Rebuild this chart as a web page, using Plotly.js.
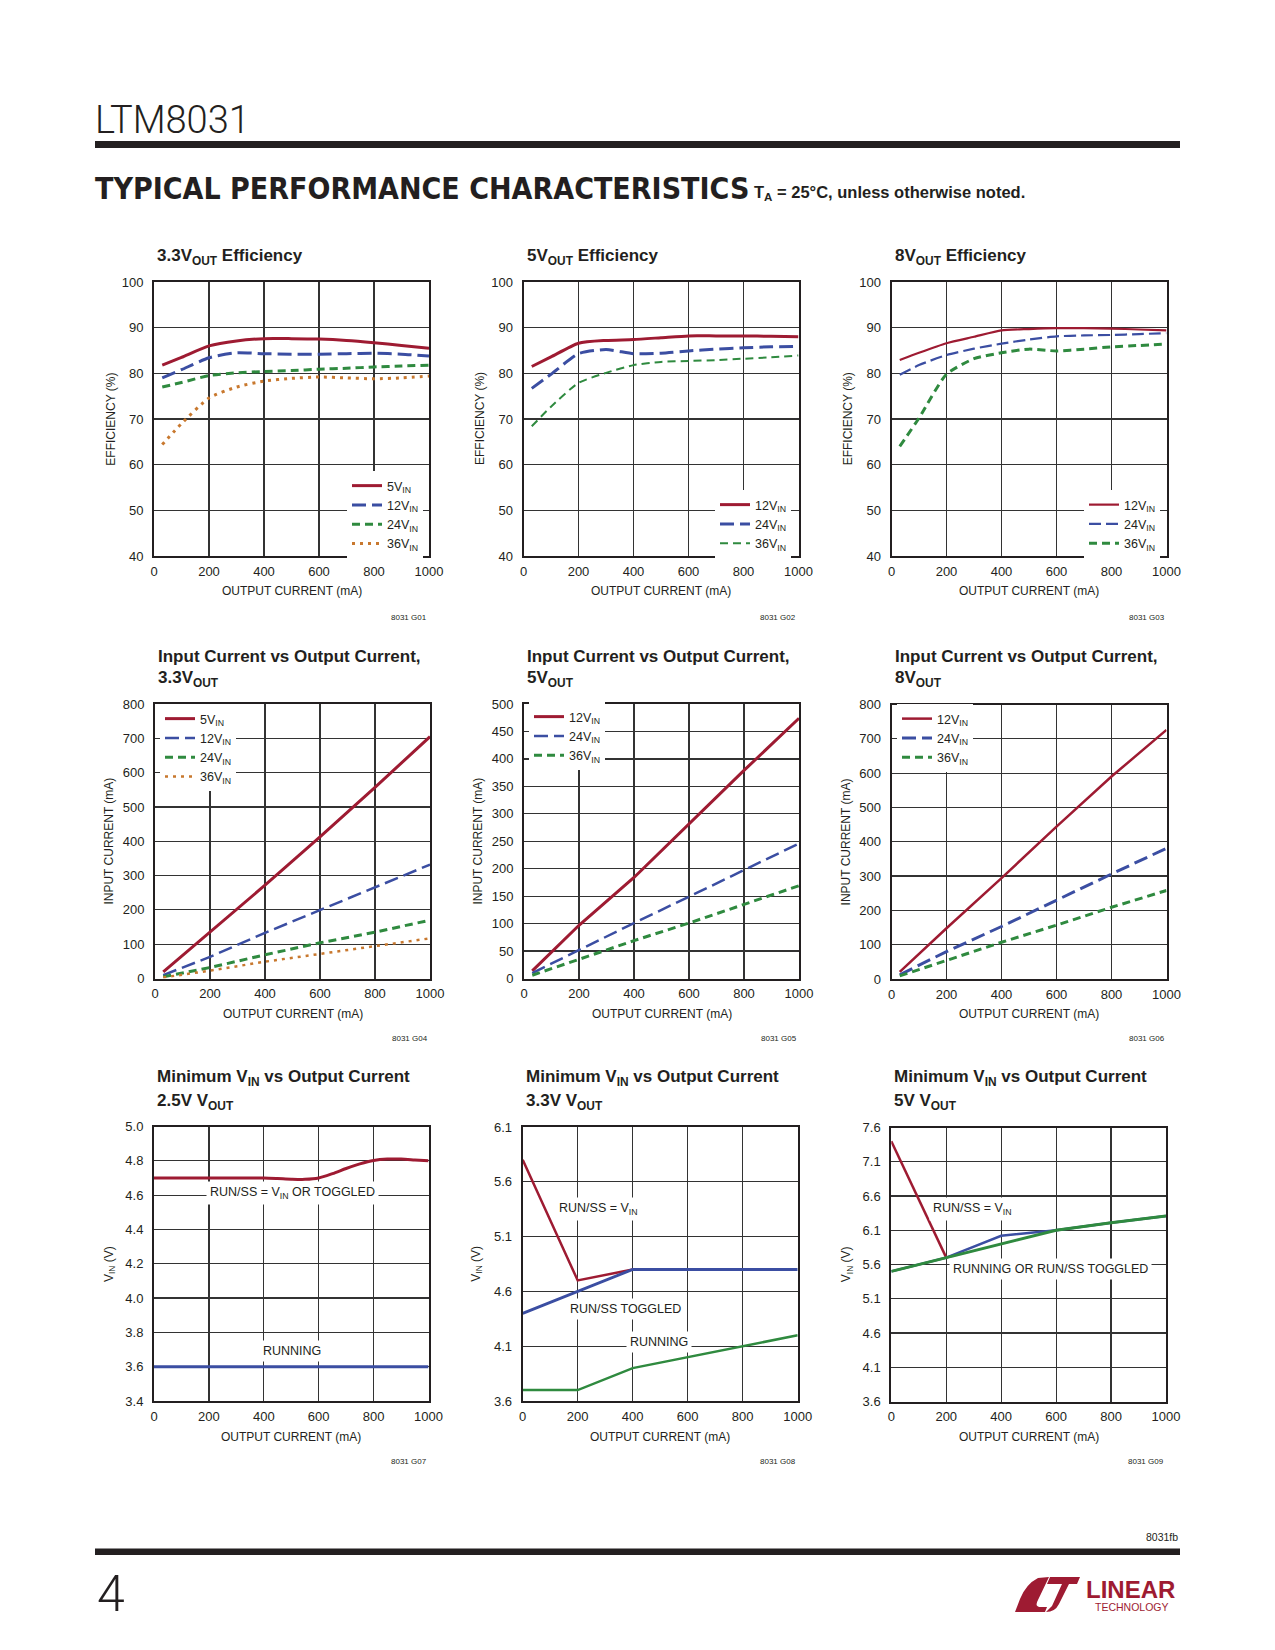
<!DOCTYPE html>
<html>
<head>
<meta charset="utf-8">
<script src="https://cdn.plot.ly/plotly-3.0.1.min.js"></script>
<style>
html,body{margin:0;padding:0;background:#fff;}
#page{width:1275px;height:1650px;}
</style>
</head>
<body>
<div id="page"></div>
<script>
// ---------------- DATA ----------------
// Efficiency charts: output current (mA)
const effCurrent = [30, 100, 200, 300, 400, 500, 600, 700, 800, 900, 1000];
// 3.3V OUT efficiency (%)
const eff33_5Vin  = [81.8, 83.5, 86.0, 87.1, 87.6, 87.6, 87.5, 87.2, 86.7, 86.1, 85.5];
const eff33_12Vin = [79.0, 80.8, 83.4, 84.5, 84.3, 84.2, 84.2, 84.3, 84.4, 84.2, 83.8];
const eff33_24Vin = [77.0, 78.0, 79.5, 80.1, 80.4, 80.6, 80.9, 81.1, 81.4, 81.6, 81.8];
const eff33_36Vin = [64.4, 69.0, 74.6, 77.0, 78.3, 78.9, 79.2, 79.0, 78.8, 79.0, 79.4];
// 5V OUT efficiency (%)
const eff5_12Vin = [81.5, 83.6, 86.6, 87.2, 87.4, 87.8, 88.2, 88.2, 88.2, 88.1, 88.0];
const eff5_24Vin = [76.7, 79.8, 84.3, 85.2, 84.3, 84.4, 84.9, 85.3, 85.6, 85.8, 85.9];
const eff5_36Vin = [68.4, 72.7, 77.9, 80.1, 81.8, 82.5, 82.7, 82.9, 83.2, 83.5, 83.9];
// 8V OUT efficiency (%)
const eff8_12Vin = [82.9, 84.5, 86.6, 88.0, 89.4, 89.7, 89.9, 89.9, 89.8, 89.6, 89.4];
const eff8_24Vin = [79.7, 81.8, 84.0, 85.4, 86.5, 87.4, 88.1, 88.3, 88.4, 88.6, 88.8];
const eff8_36Vin = [64.0, 70.2, 79.8, 83.2, 84.5, 85.3, 84.9, 85.3, 85.8, 86.1, 86.4];

// Input current charts: output current (mA) -> input current (mA)
const inCurrentX = [30, 200, 400, 600, 800, 1000];
const iin33_5Vin  = [19, 136, 272, 413, 557, 705];
const iin33_12Vin = [10, 63, 133, 199, 267, 332];
const iin33_24Vin = [5, 32, 69, 104, 135, 170];
const iin33_36Vin = [3, 23, 49, 72, 94, 117];
const iin5_12Vin = [14, 97, 184, 282, 379, 474];
const iin5_24Vin = [10, 52, 101, 149, 198, 246];
const iin5_36Vin = [6, 35, 69, 101, 135, 169];
const iin8_12Vin = [21, 148, 294, 444, 590, 726];
const iin8_24Vin = [12, 80, 153, 230, 306, 381];
const iin8_36Vin = [9, 55, 107, 157, 209, 258];

// Minimum VIN charts
const vmin25_runssX = [0, 100, 200, 300, 400, 450, 500, 550, 600, 650, 700, 750, 800, 850, 900, 950, 1000];
const vmin25_runss  = [4.70, 4.70, 4.70, 4.70, 4.70, 4.697, 4.693, 4.692, 4.70, 4.725, 4.755, 4.782, 4.802, 4.81, 4.81, 4.805, 4.80];
const vmin25_runX = [0, 1000];
const vmin25_run  = [3.6, 3.6];

const vmin33_vinX = [0, 200, 400];
const vmin33_vin  = [5.8, 4.7, 4.8];
const vmin33_togX = [0, 200, 400, 1000];
const vmin33_tog  = [4.4, 4.6, 4.8, 4.8];
const vmin33_runX = [0, 200, 400, 600, 800, 1000];
const vmin33_run  = [3.7, 3.7, 3.9, 4.0, 4.1, 4.2];

const vmin5_vinX = [0, 200];
const vmin5_vin  = [7.4, 5.7];
const vmin5_togX = [0, 200, 400, 600, 800, 1000];
const vmin5_tog  = [5.5, 5.7, 6.02, 6.1, 6.21, 6.31];
const vmin5_runX = [0, 200, 400, 600, 800, 1000];
const vmin5_run  = [5.5, 5.7, 5.9, 6.1, 6.21, 6.31];

// Tick / label texts
const xTitle = 'OUTPUT CURRENT (mA)';
const chartTitles = [
  ['3.3V<sub>OUT</sub> Efficiency'],
  ['5V<sub>OUT</sub> Efficiency'],
  ['8V<sub>OUT</sub> Efficiency'],
  ['Input Current vs Output Current,', '3.3V<sub>OUT</sub>'],
  ['Input Current vs Output Current,', '5V<sub>OUT</sub>'],
  ['Input Current vs Output Current,', '8V<sub>OUT</sub>'],
  ['Minimum V<sub>IN</sub> vs Output Current', '2.5V V<sub>OUT</sub>'],
  ['Minimum V<sub>IN</sub> vs Output Current', '3.3V V<sub>OUT</sub>'],
  ['Minimum V<sub>IN</sub> vs Output Current', '5V V<sub>OUT</sub>']
];
const yTitles = ['EFFICIENCY (%)','EFFICIENCY (%)','EFFICIENCY (%)',
  'INPUT CURRENT (mA)','INPUT CURRENT (mA)','INPUT CURRENT (mA)',
  'V<sub>IN</sub> (V)','V<sub>IN</sub> (V)','V<sub>IN</sub> (V)'];
const figIds = ['8031 G01','8031 G02','8031 G03','8031 G04','8031 G05','8031 G06','8031 G07','8031 G08','8031 G09'];

// ---------------- LAYOUT / STYLE ----------------
const W = 1275, H = 1650;
const PX = v => v / W;
const PY = v => 1 - v / H;
const INK = '#231f20';
const RED = '#9e1b32', BLUE = '#3b4ea2', GREEN = '#2f8a3f', ORANGE = '#c8782e';
const SANS = "'Liberation Sans', Arial, Helvetica, sans-serif";
const DISPLAY = "'DejaVu Sans Condensed', 'DejaVu Sans', sans-serif";
const LIGHT = "Roboto, 'Liberation Sans', sans-serif";

const panels = [
  {bx:[154,429],   by:[282,556],    yr:[40,100], dy:10,  fmt:''},
  {bx:[523.5,798.5], by:[282,556],  yr:[40,100], dy:10,  fmt:''},
  {bx:[891.5,1166.5], by:[282,556], yr:[40,100], dy:10,  fmt:''},
  {bx:[155,430],   by:[704,978.5],  yr:[0,800],  dy:100, fmt:''},
  {bx:[524,799],   by:[704,978.5],  yr:[0,500],  dy:50,  fmt:''},
  {bx:[891.5,1166.5], by:[704.5,979], yr:[0,800], dy:100, fmt:''},
  {bx:[154,428.5], by:[1126.5,1401], yr:[3.4,5.0], dy:0.2, fmt:'.1f'},
  {bx:[522.7,797.7], by:[1127,1401], yr:[3.6,6.1], dy:0.5, fmt:'.1f'},
  {bx:[891.3,1166], by:[1127.5,1401.5], yr:[3.6,7.6], dy:0.5, fmt:'.1f'}
];
const yTitleX = [110.7, 480, 848.3, 109.3, 478.3, 845.7, 109.3, 476.7, 846.7];

const sfx = i => (i === 0 ? '' : String(i + 1));

const layout = {
  width: W, height: H,
  margin: {l:0, r:0, t:0, b:0, pad:0},
  paper_bgcolor: '#ffffff', plot_bgcolor: '#ffffff',
  font: {family: SANS, color: INK, size: 12},
  annotations: [], shapes: []
};

const axBase = {
  showgrid: true, gridcolor: '#333333', gridwidth: 1.2,
  showline: true, linecolor: INK, linewidth: 2, mirror: true,
  ticks: '', zeroline: false, fixedrange: true,
  tickfont: {family: SANS, size: 13, color: INK}
};

panels.forEach((p, i) => {
  const n = sfx(i);
  layout['xaxis' + n] = Object.assign({}, axBase, {
    domain: [PX(p.bx[0]), PX(p.bx[1])], range: [0, 1000], tick0: 0, dtick: 200,
    anchor: 'y' + n, ticklabelstandoff: 2
  });
  layout['yaxis' + n] = Object.assign({}, axBase, {
    domain: [PY(p.by[1]), PY(p.by[0])], range: p.yr, tick0: p.yr[0], dtick: p.dy,
    anchor: 'x' + n, tickformat: p.fmt, ticklabelstandoff: 6
  });
  // chart title lines
  const titleRowY = i < 3 ? [257.5] : (i < 6 ? [656, 679] : [1078.3, 1101.7]);
  chartTitles[i].forEach((t, k) => {
    layout.annotations.push({
      xref: 'paper', yref: 'paper', x: PX(p.bx[0] + 1), y: PY(titleRowY[k]),
      xanchor: 'left', yanchor: 'middle', showarrow: false, text: t,
      font: {family: SANS, size: 17, color: INK, weight: 700}
    });
  });
  // y axis title
  layout.annotations.push({
    xref: 'paper', yref: 'paper', x: PX(yTitleX[i]), y: PY((p.by[0] + p.by[1]) / 2),
    xanchor: 'center', yanchor: 'middle', textangle: -90, showarrow: false,
    text: yTitles[i], font: {family: SANS, size: 12, color: INK}
  });
  // x axis title
  const xtY = i < 3 ? 590.7 : (i < 6 ? 1014 : 1436.7);
  layout.annotations.push({
    xref: 'paper', yref: 'paper', x: PX((p.bx[0] + p.bx[1]) / 2), y: PY(xtY),
    xanchor: 'center', yanchor: 'middle', showarrow: false,
    text: xTitle, font: {family: SANS, size: 12, color: INK}
  });
  // figure id
  const idY = i < 3 ? 617 : (i < 6 ? 1038 : 1461);
  layout.annotations.push({
    xref: 'paper', yref: 'paper', x: PX(p.bx[1]), y: PY(idY),
    xanchor: 'right', yanchor: 'middle', showarrow: false,
    text: figIds[i], font: {family: SANS, size: 8, color: INK}
  });
});

// legends
const legendPos = [[347,471],[715,490],[1084,490],[160,704],[529,702],[897,704]];
legendPos.forEach((lp, i) => {
  layout[i === 0 ? 'legend' : 'legend' + (i + 1)] = {
    x: PX(lp[0]), y: PY(lp[1]), xanchor: 'left', yanchor: 'top',
    bgcolor: '#ffffff', borderwidth: 0, tracegroupgap: 0, itemwidth: 30,
    traceorder: 'normal',
    font: {family: SANS, size: 12.5, color: INK}
  };
});

// in-plot labels for minimum VIN charts
const lbl = (k, x, y, t) => ({
  xref: 'x' + sfx(k), yref: 'y' + sfx(k), x: x, y: y, text: t, showarrow: false,
  xanchor: 'center', yanchor: 'middle', bgcolor: '#ffffff', borderpad: 3,
  font: {family: SANS, size: 12.5, color: INK}
});
layout.annotations.push(
  lbl(6, 503, 4.61, 'RUN/SS = V<sub>IN</sub> OR TOGGLED'),
  lbl(6, 503, 3.69, 'RUNNING'),
  lbl(7, 276, 5.35, 'RUN/SS = V<sub>IN</sub>'),
  lbl(7, 374, 4.44, 'RUN/SS TOGGLED'),
  lbl(7, 495, 4.14, 'RUNNING'),
  lbl(8, 295, 6.41, 'RUN/SS = V<sub>IN</sub>'),
  lbl(8, 581, 5.54, 'RUNNING OR RUN/SS TOGGLED')
);

// page header / footer text
const pageText = (x, y, t, size, anchor, weight, color, family) => ({
  xref: 'paper', yref: 'paper', x: PX(x), y: PY(y), text: t, showarrow: false,
  xanchor: anchor, yanchor: 'middle',
  font: {family: family || SANS, size: size, color: color || INK, weight: weight || 400}
});
layout.annotations.push(
  pageText(93, 120, 'LTM8031', 38, 'left', 300, INK, LIGHT),
  pageText(93, 188.5, 'TYPICAL PERFORMANCE CHARACTERISTICS', 30, 'left', 700, INK, DISPLAY),
  pageText(752, 193, 'T<sub>A</sub> = 25°C, unless otherwise noted.', 16.5, 'left', 700),
  pageText(1180, 1537, '8031fb', 10.5, 'right', 400),
  pageText(95, 1594, '4', 50, 'left', 300, INK, LIGHT),
  pageText(1084, 1589, 'LINEAR', 24, 'left', 700, RED),
  pageText(1093, 1607, 'TECHNOLOGY', 10.5, 'left', 400, RED)
);

const rectPx = (x0, y0, x1, y1) => ({
  type: 'rect', xref: 'paper', yref: 'paper', x0: PX(x0), x1: PX(x1), y0: PY(y1), y1: PY(y0),
  fillcolor: INK, line: {width: 0}, layer: 'above'
});
layout.shapes.push(rectPx(95, 141, 1180, 148), rectPx(95, 1548.5, 1180, 1555));

// logo glyph (approximate), path in paper coords
function pathPx(cmds) {
  return cmds.map(c => {
    if (typeof c === 'string') return c;
    return PX(c[0]).toFixed(5) + ',' + PY(c[1]).toFixed(5);
  }).join(' ');
}
layout.shapes.push({
  type: 'path', xref: 'paper', yref: 'paper', fillcolor: RED, line: {width: 0},
  path: pathPx(['M', [1015,1612], 'L', [1020,1599], 'Q', [1026,1584], [1038,1578], 'L', [1049,1577],
    'L', [1038,1600], 'Q', [1034,1607], [1041,1607], 'L', [1047,1607], 'L', [1045,1612], 'Z'])
});
layout.shapes.push({
  type: 'path', xref: 'paper', yref: 'paper', fillcolor: RED, line: {width: 0},
  path: pathPx(['M', [1050,1577], 'L', [1080,1577], 'L', [1077,1584], 'L', [1069,1584],
    'L', [1059,1604], 'Q', [1055,1612], [1046,1612], 'L', [1052,1606], 'L', [1062,1584], 'L', [1047,1584], 'Z'])
});

// ---------------- TRACES ----------------
function tr(k, x, y, name, color, width, dash, smooth) {
  const t = {
    type: 'scatter', mode: 'lines', x: x, y: y,
    xaxis: 'x' + sfx(k), yaxis: 'y' + sfx(k), name: name, hoverinfo: 'skip',
    line: {color: color, width: width, dash: dash || 'solid', shape: smooth ? 'spline' : 'linear', smoothing: smooth || 0}
  };
  if (k < 6) { t.legend = k === 0 ? 'legend' : 'legend' + (k + 1); t.showlegend = true; }
  else t.showlegend = false;
  return t;
}
const LD = '14px,6px', MD = '8px,5px', DOT = '3px,5px';
const data = [
  tr(0, effCurrent, eff33_5Vin,  '5V<sub>IN</sub>',  RED, 3, 'solid', 0.6),
  tr(0, effCurrent, eff33_12Vin, '12V<sub>IN</sub>', BLUE, 3, LD, 0.6),
  tr(0, effCurrent, eff33_24Vin, '24V<sub>IN</sub>', GREEN, 3, MD, 0.6),
  tr(0, effCurrent, eff33_36Vin, '36V<sub>IN</sub>', ORANGE, 3, DOT, 0.6),

  tr(1, effCurrent, eff5_12Vin, '12V<sub>IN</sub>', RED, 3, 'solid', 0.6),
  tr(1, effCurrent, eff5_24Vin, '24V<sub>IN</sub>', BLUE, 3, LD, 0.6),
  tr(1, effCurrent, eff5_36Vin, '36V<sub>IN</sub>', GREEN, 2, MD, 0.6),

  tr(2, effCurrent, eff8_12Vin, '12V<sub>IN</sub>', RED, 2.2, 'solid', 0.6),
  tr(2, effCurrent, eff8_24Vin, '24V<sub>IN</sub>', BLUE, 2.2, '12px,5px', 0.6),
  tr(2, effCurrent, eff8_36Vin, '36V<sub>IN</sub>', GREEN, 3, MD, 0.6),

  tr(3, inCurrentX, iin33_5Vin,  '5V<sub>IN</sub>',  RED, 3, 'solid'),
  tr(3, inCurrentX, iin33_12Vin, '12V<sub>IN</sub>', BLUE, 2.5, LD),
  tr(3, inCurrentX, iin33_24Vin, '24V<sub>IN</sub>', GREEN, 3, MD),
  tr(3, inCurrentX, iin33_36Vin, '36V<sub>IN</sub>', ORANGE, 2.5, DOT),

  tr(4, inCurrentX, iin5_12Vin, '12V<sub>IN</sub>', RED, 3, 'solid'),
  tr(4, inCurrentX, iin5_24Vin, '24V<sub>IN</sub>', BLUE, 2.5, LD),
  tr(4, inCurrentX, iin5_36Vin, '36V<sub>IN</sub>', GREEN, 3, MD),

  tr(5, inCurrentX, iin8_12Vin, '12V<sub>IN</sub>', RED, 2.5, 'solid'),
  tr(5, inCurrentX, iin8_24Vin, '24V<sub>IN</sub>', BLUE, 3, LD),
  tr(5, inCurrentX, iin8_36Vin, '36V<sub>IN</sub>', GREEN, 3, MD),

  tr(6, vmin25_runssX, vmin25_runss, 'RUN/SS = VIN OR TOGGLED', RED, 3, 'solid', 0.8),
  tr(6, vmin25_runX, vmin25_run, 'RUNNING', BLUE, 3, 'solid'),

  tr(7, vmin33_vinX, vmin33_vin, 'RUN/SS = VIN', RED, 2.5, 'solid'),
  tr(7, vmin33_togX, vmin33_tog, 'RUN/SS TOGGLED', BLUE, 3, 'solid'),
  tr(7, vmin33_runX, vmin33_run, 'RUNNING', GREEN, 2.5, 'solid'),

  tr(8, vmin5_vinX, vmin5_vin, 'RUN/SS = VIN', RED, 2.5, 'solid'),
  tr(8, vmin5_togX, vmin5_tog, 'RUN/SS TOGGLED', BLUE, 2.5, 'solid'),
  tr(8, vmin5_runX, vmin5_run, 'RUNNING', GREEN, 3, 'solid')
];

// After drawing: give every subscript its own sized <text> element placed exactly
// where the library drew it, so no text run is left with a relative size.
const SVGNS = 'http://www.w3.org/2000/svg';
function splitSubscripts(gd) {
  Array.from(gd.querySelectorAll('text')).forEach(t => {
    const subs = Array.from(t.querySelectorAll('tspan'))
      .filter(ts => /font-size:\s*70%/.test(ts.getAttribute('style') || ''));
    if (!subs.length) return;
    let start;
    try { start = t.getStartPositionOfChar(0); } catch (e) { return; }
    let info;
    try {
      info = subs.map(ts => {
        const cs = getComputedStyle(ts);
        return {ts: ts, p: ts.getStartPositionOfChar(0), w: ts.getComputedTextLength(),
          fs: cs.fontSize, ff: cs.fontFamily, fw: cs.fontWeight, fill: cs.fill, txt: ts.textContent};
      });
    } catch (e) { return; }
    t.setAttribute('text-anchor', 'start');
    t.style.textAnchor = 'start';
    t.setAttribute('x', start.x.toFixed(2));
    info.forEach(d => {
      const n = document.createElementNS(SVGNS, 'text');
      n.setAttribute('x', d.p.x.toFixed(2));
      n.setAttribute('y', d.p.y.toFixed(2));
      n.setAttribute('text-anchor', 'start');
      if (t.getAttribute('transform')) n.setAttribute('transform', t.getAttribute('transform'));
      n.setAttribute('style', 'font-family:' + d.ff + ';font-size:' + d.fs + ';font-weight:' + d.fw +
        ';fill:' + d.fill + ';text-anchor:start;');
      n.textContent = d.txt;
      t.parentNode.insertBefore(n, t.nextSibling);
      const r = d.ts.nextSibling;
      d.ts.remove();
      if (r && r.nodeType === 1 && r.tagName.toLowerCase() === 'tspan' &&
          r.textContent.replace(/\u200b/g, '').trim() === '') {
        const followers = [];
        let m = r.nextSibling;
        while (m) { followers.push(m); m = m.nextSibling; }
        if (followers.length) {
          r.textContent = '';
          r.removeAttribute('dy');
          r.setAttribute('dx', d.w.toFixed(2));
          followers.forEach(f => r.appendChild(f));
        } else {
          r.remove();
        }
      }
    });
  });
  gd.querySelectorAll('text').forEach(t => {
    if (t.textContent.replace(/\u200b/g, '').trim() === '') t.remove();
  });
}

Plotly.newPlot('page', data, layout, {displayModeBar: false, staticPlot: true}).then(splitSubscripts);
</script>
</body>
</html>
